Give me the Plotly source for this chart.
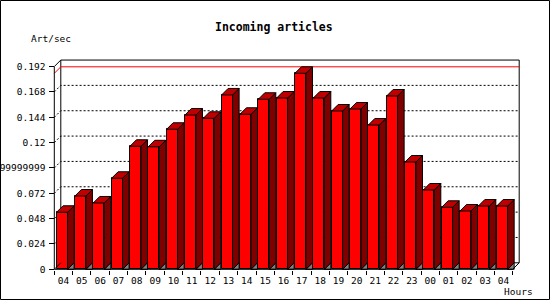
import plotly.graph_objects as go

# ---------------- data ----------------
hours = ["04", "05", "06", "07", "08", "09", "10", "11", "12", "13", "14", "15", "16",
         "17", "18", "19", "20", "21", "22", "23", "00", "01", "02", "03", "04"]
art_per_sec = [0.0540, 0.0694, 0.0628, 0.0862, 0.1165, 0.1160, 0.1326, 0.1461, 0.1430,
               0.1651, 0.1468, 0.1610, 0.1622, 0.1856, 0.1622, 0.1499, 0.1518, 0.1366,
               0.1641, 0.1016, 0.0751, 0.0587, 0.0552, 0.0599, 0.0599]
y_ticks = [0, 0.024, 0.048, 0.072, 0.096, 0.12, 0.144, 0.168, 0.192]
y_tick_text = ["0", "0.024", "0.048", "0.072", "0.09599999999", "0.12", "0.144", "0.168", "0.192"]
title = "Incoming articles"
y_title = "Art/sec"
x_title = "Hours"

# ---------------- geometry ----------------
W, H = 550, 300
L, R, T, B = 50, 25, 50, 30
plot_w, plot_h = W - L - R, H - T - B
n = len(hours)
AX_X = 54.3           # pixel of front y-axis
AX_Y = 269.3          # pixel of front x-axis (value 0)
SX = (512.7 - AX_X) / n   # px per category
SY = 1056.0               # px per unit
xmin = -0.5 - (AX_X - L) / SX
xmax = -0.5 + (W - R - AX_X) / SX
ymin = -((H - B) - AX_Y) / SY
ymax = (AX_Y - T) / SY
DX = 6.5 / SX
DY = 6.5 / SY
ytop = y_ticks[-1]

def xp(px):
    return (px - L) / plot_w

def yp(py):
    return ((H - B) - py) / plot_h

FONT = "DejaVu Sans Mono"
xs = list(range(n))
front_off, front_w = -0.075, 0.6

fig = go.Figure()

# front faces
fig.add_trace(go.Bar(
    x=[i + front_off for i in xs], y=art_per_sec, width=front_w,
    marker=dict(color="#ff0000", line=dict(color="black", width=1)),
    hoverinfo="skip", showlegend=False))

def poly_trace(polys, color):
    px_, py_ = [], []
    for p in polys:
        for (a, b) in p + [p[0]]:
            px_.append(a)
            py_.append(b)
        px_.append(None)
        py_.append(None)
    return go.Scatter(x=px_, y=py_, mode="lines", fill="toself", fillcolor=color,
                      line=dict(color="black", width=1), hoverinfo="skip",
                      showlegend=False)

sides, tops, floors = [], [], []
for i, v in zip(xs, art_per_sec):
    xl = i + front_off - front_w / 2
    xr = i + front_off + front_w / 2
    sides.append([(xr, 0), (xr, v), (xr + DX, v + DY), (xr + DX, DY)])
    tops.append([(xl, v), (xr, v), (xr + DX, v + DY), (xl + DX, v + DY)])
    floors.append([(xr, 0), (xr + DX, DY), (xr + DX, 0)])

fig.add_trace(poly_trace(floors, "#808080"))
fig.add_trace(poly_trace(sides, "#800000"))
fig.add_trace(poly_trace(tops, "#c00000"))

shapes = []
# back box
shapes.append(dict(type="rect", xref="x", yref="y", x0=-0.5 + DX, y0=DY,
                   x1=n - 0.5 + DX, y1=ytop + DY, line=dict(color="black", width=1),
                   layer="below"))
# dotted grid lines on back plane
for v in y_ticks[1:-1]:
    shapes.append(dict(type="path", xref="x", yref="y",
                       path=f"M {-0.5},{v} L {-0.5 + DX},{v + DY} L {n - 0.5 + DX},{v + DY}",
                       line=dict(color="black", width=1, dash="2px,2px"), layer="below"))
# max line (red)
vmax = max(art_per_sec)
shapes.append(dict(type="path", xref="x", yref="y",
                   path=f"M {-0.5},{vmax} L {-0.5 + DX},{vmax + DY} L {n - 0.5 + DX},{vmax + DY}",
                   line=dict(color="#ff0000", width=1), layer="below"))
# front axes
shapes.append(dict(type="path", xref="x", yref="y",
                   path=f"M {-0.5 + DX},{ytop + DY} L {-0.5},{ytop} L {-0.5},0 L {n - 0.5},0 L {n - 0.5 + DX},{DY}",
                   line=dict(color="black", width=1), layer="above"))
shapes.append(dict(type="path", xref="x", yref="y",
                   path=f"M {-0.5},0 L {-0.5 + DX},{DY}",
                   line=dict(color="black", width=1), layer="above"))
# outer border
shapes.append(dict(type="rect", xref="paper", yref="paper",
                   x0=xp(0.5), y0=yp(299.5), x1=xp(549.5), y1=yp(0.5),
                   line=dict(color="black", width=1), layer="above"))

annotations = [
    dict(text=f"<b>{title}</b>", xref="paper", yref="paper", x=xp(274), y=yp(27.5),
         xanchor="center", yanchor="middle", showarrow=False,
         font=dict(family=FONT, size=11.5, color="black")),
    dict(text=y_title, xref="paper", yref="paper", x=xp(29), y=yp(38.5),
         xanchor="left", yanchor="middle", showarrow=False,
         font=dict(family=FONT, size=9.5, color="black")),
    dict(text=x_title, xref="paper", yref="paper", x=xp(534.5), y=yp(291.7),
         xanchor="right", yanchor="middle", showarrow=False,
         font=dict(family=FONT, size=9.5, color="black")),
]

fig.update_layout(
    width=W, height=H,
    margin=dict(l=L, r=R, t=T, b=B, pad=0),
    paper_bgcolor="white", plot_bgcolor="white",
    showlegend=False, bargap=0,
    font=dict(family=FONT, size=9.5, color="black"),
    shapes=shapes, annotations=annotations,
    xaxis=dict(range=[xmin, xmax], showgrid=False, zeroline=False, showline=False,
               tickmode="array", tickvals=xs, ticktext=hours, ticks="",
               ticklabelstandoff=3,
               tickfont=dict(family=FONT, size=9.5, color="black"),
               minor=dict(tickmode="array", tickvals=[i - 0.5 for i in range(n + 1)],
                          ticks="outside", ticklen=4, tickcolor="black", tickwidth=1),
               automargin=False, fixedrange=True),
    yaxis=dict(range=[ymin, ymax], showgrid=False, zeroline=False, showline=False,
               anchor="free", position=xp(AX_X),
               tickmode="array", tickvals=y_ticks, ticktext=y_tick_text,
               ticks="outside", ticklen=5, tickcolor="black", tickwidth=1,
               ticklabelstandoff=2,
               tickfont=dict(family=FONT, size=9.5, color="black"),
               automargin=False, fixedrange=True),
)

fig.write_html("out.html")
